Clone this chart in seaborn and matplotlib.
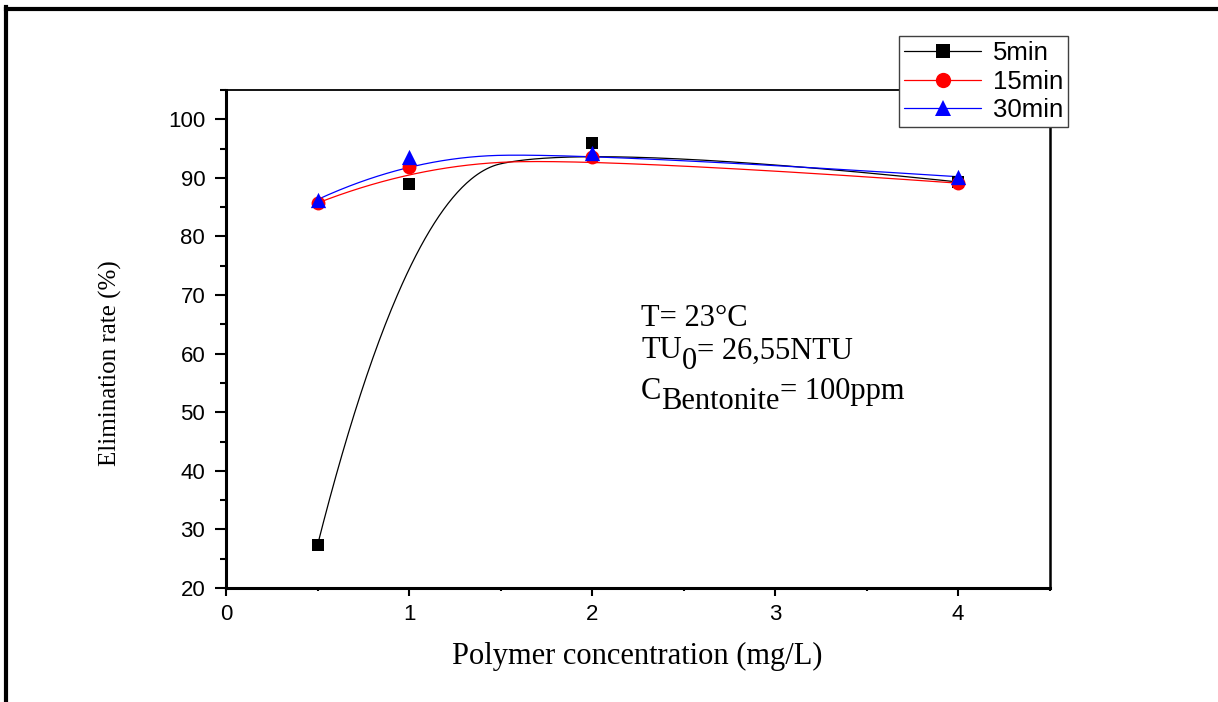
import numpy as np
import pandas as pd
import matplotlib
matplotlib.use("Agg")
import matplotlib.pyplot as plt
from matplotlib.lines import Line2D
from matplotlib.ticker import MultipleLocator
import seaborn as sns

# ---------------- data ----------------
conc = [0.5, 1, 2, 4]
rate_5min = [27.3, 88.9, 95.9, 89.3]
rate_15min = [85.7, 91.8, 93.5, 89.1]
rate_30min = [86.3, 93.5, 94.2, 90.2]
series_names = ["5min", "15min", "30min"]
x_ticks = [0, 1, 2, 3, 4]
y_ticks = [20, 30, 40, 50, 60, 70, 80, 90, 100]

sns.set_style("ticks")
plt.rcParams["font.family"] = ["Liberation Sans", "DejaVu Sans"]
plt.rcParams["mathtext.default"] = "regular"
plt.rcParams["text.color"] = "black"
plt.rcParams["axes.labelcolor"] = "black"
plt.rcParams["xtick.color"] = "black"
plt.rcParams["ytick.color"] = "black"

SERIF = ["Liberation Serif", "DejaVu Serif"]


def bspline2(xs, ys, n=120):
    """Quadratic clamped B-spline using the data points as control points."""
    P = np.column_stack([xs, ys]).astype(float)
    k = len(P)
    segs = []
    t = np.linspace(0, 1, n)[:, None]
    for i in range(k - 2):
        a = P[0] if i == 0 else (P[i] + P[i + 1]) / 2
        b = P[i + 1]
        c = P[-1] if i == k - 3 else (P[i + 1] + P[i + 2]) / 2
        segs.append((1 - t) ** 2 * a + 2 * t * (1 - t) * b + t ** 2 * c)
    return np.vstack(segs)


fig = plt.figure(figsize=(12.18, 7.02), dpi=100)
ax = fig.add_axes([0.18555, 0.16239, 0.67611, 0.70940])

styles = [
    dict(name="5min", y=rate_5min, color="#000000", marker="s", ms=9),
    dict(name="15min", y=rate_15min, color="#FF0000", marker="o", ms=10),
    dict(name="30min", y=rate_30min, color="#0000FF", marker="^", ms=11),
]

for i, st in enumerate(styles):
    curve = bspline2(conc, st["y"])
    sns.lineplot(x=curve[:, 0], y=curve[:, 1], sort=False, estimator=None,
                 color=st["color"], lw=0.9, ax=ax, zorder=2 + i)
for i, st in enumerate(styles):
    df = pd.DataFrame({"conc": conc, "rate": st["y"]})
    sns.scatterplot(data=df, x="conc", y="rate", marker=st["marker"],
                    color=st["color"], s=st["ms"] ** 2, linewidth=0,
                    ax=ax, zorder=10 + i, legend=False)

ax.set_xlim(0, 4.5)
ax.set_ylim(20, 105)
ax.set_xticks(x_ticks)
ax.set_yticks(y_ticks)
ax.xaxis.set_minor_locator(MultipleLocator(0.5))
ax.yaxis.set_minor_locator(MultipleLocator(5))
ax.tick_params(axis="both", which="major", labelsize=16, width=1.5,
               colors="black", direction="out")
ax.tick_params(axis="y", which="major", length=8, pad=7)
ax.tick_params(axis="y", which="minor", length=4.5, width=1.5)
ax.tick_params(axis="x", which="major", length=5.5, pad=6)
ax.tick_params(axis="x", which="minor", length=2.5, width=1.5)

for side, lw in [("left", 2.2), ("bottom", 2.2), ("top", 1.3), ("right", 1.8)]:
    ax.spines[side].set_visible(True)
    ax.spines[side].set_linewidth(lw)
    ax.spines[side].set_color("black")

ax.set_xlabel("Polymer concentration (mg/L)", fontsize=22, family=SERIF, color="black")
ax.set_ylabel("Elimination rate (%)", fontsize=18, family=SERIF, color="black")
ax.xaxis.set_label_coords(0.499, -0.108)
ax.yaxis.set_label_coords(-0.126, 0.452)

# ---- annotation text ----
FS = 22
ax.text(2.268, 64.7, "T= 23°C", fontsize=FS, family=SERIF, va="baseline", ha="left")

t1 = ax.text(2.268, 59.2, "TU", fontsize=FS, family=SERIF, va="baseline", ha="left")
t2 = ax.annotate("0", xy=(1, 0), xycoords=t1, xytext=(0, -8), textcoords="offset points",
                 fontsize=FS, family=SERIF, va="bottom", ha="left")
ax.annotate("= 26,55NTU", xy=(1, 0), xycoords=t2, xytext=(0, 8), textcoords="offset points",
            fontsize=FS, family=SERIF, va="bottom", ha="left")

c1 = ax.text(2.268, 52.2, "C", fontsize=FS, family=SERIF, va="baseline", ha="left")
c2 = ax.annotate("Bentonite", xy=(1, 0), xycoords=c1, xytext=(0, -7), textcoords="offset points",
                 fontsize=FS, family=SERIF, va="bottom", ha="left")
ax.annotate("= 100ppm", xy=(1, 0), xycoords=c2, xytext=(0, 7), textcoords="offset points",
            fontsize=FS, family=SERIF, va="bottom", ha="left")

# ---- legend ----
handles = [Line2D([], [], color=st["color"], lw=0.9, marker=st["marker"],
                  markersize=st["ms"] + 1, markeredgewidth=0) for st in styles]
leg = fig.legend(handles, series_names, loc="upper left",
                 bbox_to_anchor=(899 / 1218, 1 - 36 / 702), fontsize=18.5,
                 frameon=True, fancybox=False, borderpad=0.2, labelspacing=0.17,
                 handlelength=3.0, handletextpad=0.45, borderaxespad=0)
leg.get_frame().set_edgecolor("#404040")
leg.get_frame().set_linewidth(1.0)
leg.get_frame().set_alpha(1)
for txt in leg.get_texts():
    txt.set_color("black")

# ---- outer frame (left and top border lines) ----
fig.add_artist(Line2D([5.5 / 1218, 5.5 / 1218], [0, 1 - 7 / 702], transform=fig.transFigure,
                      color="black", lw=3, solid_capstyle="projecting"))
fig.add_artist(Line2D([5.5 / 1218, 1], [1 - 9 / 702, 1 - 9 / 702], transform=fig.transFigure,
                      color="black", lw=3, solid_capstyle="projecting"))

fig.savefig("out.png", dpi=100, facecolor="white")
